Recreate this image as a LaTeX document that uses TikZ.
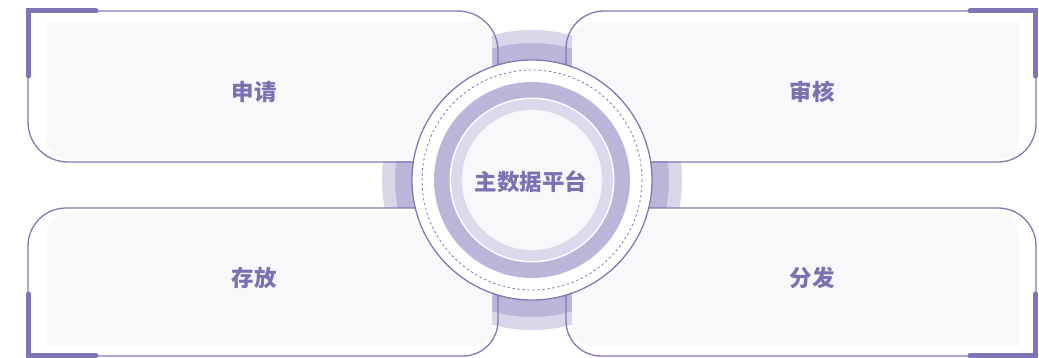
\documentclass[tikz,border=0pt]{standalone}
\usepackage{fontspec}
\newfontfamily\cjk{Noto Sans CJK SC}
\definecolor{edge}{RGB}{130,119,184}
\definecolor{brk}{RGB}{127,116,181}
\definecolor{ringdark}{RGB}{189,181,217}
\definecolor{ringlight}{RGB}{218,214,234}
\definecolor{innerlight}{RGB}{221,217,236}
\definecolor{panel}{RGB}{248,248,251}
\definecolor{txt}{RGB}{125,112,177}
\tikzset{
  outline/.style={draw=edge, line width=1.3pt},
  bracket/.style={draw=brk, line width=5pt, line cap=round, line join=miter},
  panelfill/.style={fill=panel},
  label/.style={text=txt, font=\cjk\bfseries\fontsize{22.5}{26}\selectfont, inner sep=0pt}
}
\begin{document}
\begin{tikzpicture}[x=1pt,y=-1pt]
\useasboundingbox (0,0) rectangle (1039,358);
\coordinate (C) at (532,180);
% connector bands
\foreach \cx/\cy/\dx/\dy in {490/0/575/180, 490/180/575/358, 370/162/420/208, 644/162/700/208}{
  \begin{scope}
    \clip (\cx,\cy) rectangle (\dx,\dy);
    \fill[ringlight] (C) circle (150);
    \fill[ringdark] (C) circle (137);
  \end{scope}
}
% panel fills
\fill[panelfill] (46,22) -- (472,22) arc[start angle=-90,end angle=0,radius=20] -- (492,160) -- (72,160) arc[start angle=90,end angle=180,radius=26] -- cycle;
\fill[panelfill] (1019,22) -- (1019,137) arc[start angle=0,end angle=90,radius=23] -- (572,160) -- (572,42) arc[start angle=180,end angle=270,radius=20] -- cycle;
\fill[panelfill] (46,346) -- (46,238) arc[start angle=180,end angle=270,radius=26] -- (492,212) -- (492,326) arc[start angle=0,end angle=90,radius=20] -- cycle;
\fill[panelfill] (1019,346) -- (1019,238) arc[start angle=0,end angle=-90,radius=26] -- (572,212) -- (572,326) arc[start angle=180,end angle=90,radius=20] -- cycle;
% panel outlines
\draw[outline] (498,120) -- (498,51) arc[start angle=0,end angle=-90,radius=40] -- (28,11) -- (28,122) arc[start angle=180,end angle=90,radius=40] -- (470,162);
\draw[outline] (566,120) -- (566,49) arc[start angle=180,end angle=270,radius=38] -- (1036,11) -- (1036,124) arc[start angle=0,end angle=90,radius=38] -- (600,162);
\draw[outline] (470,208) -- (66,208) arc[start angle=270,end angle=180,radius=38] -- (28,356) -- (463,356) arc[start angle=90,end angle=0,radius=35] -- (498,240);
\draw[outline] (600,208) -- (998,208) arc[start angle=270,end angle=360,radius=38] -- (1036,356) -- (601,356) arc[start angle=90,end angle=180,radius=35] -- (566,240);
% hub
\fill[white] (C) circle (120);
\draw[outline] (C) circle (120);
\draw[draw=edge, line width=0.8pt, dash pattern=on 2.5pt off 2.5pt] (C) circle (110);
\fill[ringdark] (C) circle (98);
\fill[white] (C) circle (82.5);
\fill[innerlight] (C) circle (81);
\fill[panel] (C) circle (70);
% brackets
\draw[bracket] (96,11) -- (28.5,11) -- (28.5,76);
\draw[bracket] (970,11) -- (1035.5,11) -- (1035.5,76);
\draw[bracket] (28.5,294) -- (28.5,355.5) -- (96,355.5);
\draw[bracket] (1035.5,294) -- (1035.5,355.5) -- (970,355.5);
% labels
\node[label] (hub) at (531,182) {主数据平台};
\node[label] (apply) at (254,92) {申请};
\node[label] (review) at (812,92) {审核};
\node[label] (store) at (254,278) {存放};
\node[label] (dist) at (812,278) {分发};
\end{tikzpicture}
\end{document}
